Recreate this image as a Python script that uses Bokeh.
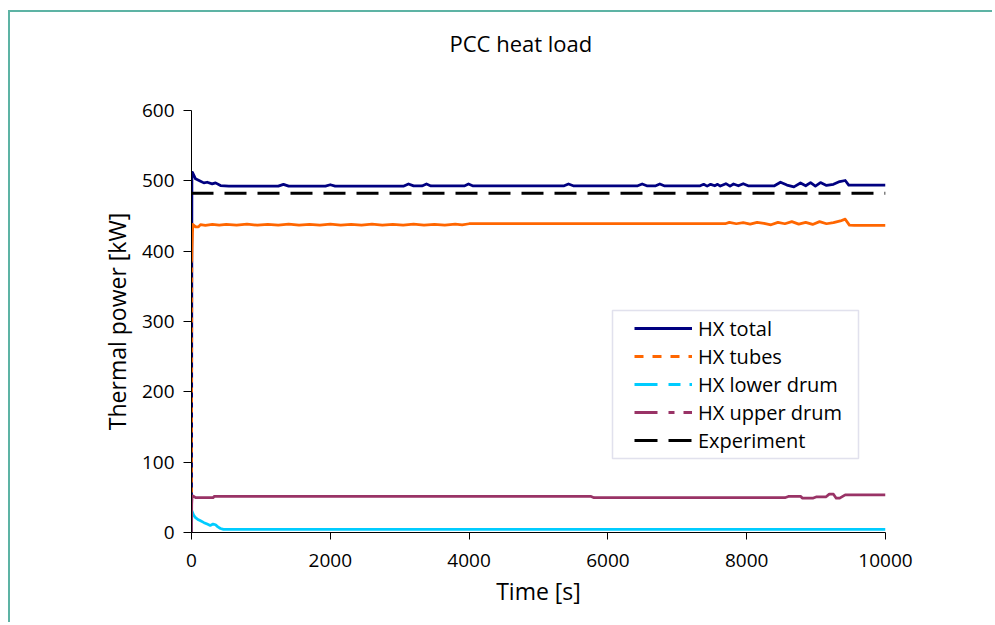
from bokeh.plotting import figure
from bokeh.models import Range1d, FixedTicker, Legend, LegendItem, BoxAnnotation, Title
from bokeh.embed import file_html
from bokeh.resources import INLINE

# ---------------- data ----------------
t_total = [0, 6, 14, 58, 130, 178, 226, 298, 346, 418, 538, 1250, 1325, 1400, 1930, 2000,
           2070, 3060, 3127, 3200, 3320, 3386, 3450, 3930, 3991, 4050, 5370, 5432, 5500,
           6430, 6494, 6560, 6690, 6748, 6810, 7330, 7380, 7430, 7480, 7540, 7580, 7620,
           7700, 7760, 7810, 7880, 7950, 8020, 8400, 8487, 8580, 8680, 8775, 8850, 8920,
           8990, 9063, 9150, 9250, 9340, 9420, 9470, 10000]
q_total = [0, 505, 512, 502.8, 499.4, 497.1, 498, 495.7, 497.1, 493.3, 492.5, 492.5, 495,
           492.5, 492.5, 494.5, 492.5, 492.5, 495.5, 492.8, 492.8, 495.5, 492.8, 492.8,
           495.5, 493, 493, 495.5, 493, 493, 495.5, 493, 493, 495.5, 493, 493, 495, 492.5,
           495, 493, 495, 492.5, 496, 492.5, 495.5, 493, 496, 493, 493, 498, 494, 491.5,
           497, 493, 497.5, 492.5, 497.5, 493.5, 495, 499, 500.5, 494, 494]

t_tubes = [0, 4, 8, 14, 20, 60, 100, 130, 200, 300, 400, 500, 650, 800, 950, 1100, 1250,
           1400, 1550, 1700, 1850, 2000, 2150, 2300, 2450, 2600, 2750, 2900, 3050, 3200,
           3350, 3500, 3650, 3800, 3900, 4000, 7690, 7750, 7850, 7950, 8050, 8150, 8250,
           8350, 8450, 8550, 8650, 8750, 8850, 8950, 9050, 9150, 9250, 9350, 9420, 9480,
           9550, 10000]
q_tubes = [0, 385, 405, 425, 438, 434.5, 434.5, 437.8, 436.8, 438, 437, 438, 437,
           438.3, 437, 438, 437, 438.3, 437, 438, 437, 438.3, 437, 438, 437,
           438.3, 437, 438, 437, 438.3, 437, 438, 437, 438.3, 437.5, 439, 439, 441,
           439, 440.5, 438.5, 441, 439.5, 437.5, 441, 439, 442, 438.5, 441, 438, 442, 439,
           440.5, 443, 445.5, 437, 436.5, 436.5]

t_lower = [0, 5, 30, 58, 100, 130, 180, 226, 270, 310, 346, 380, 418, 461, 10000]
q_lower = [0, 31, 25, 21, 18, 16.6, 14, 12, 10, 12, 11, 8, 5.7, 4.5, 4.5]

t_upper = [0, 3, 8, 20, 60, 150, 310, 330, 5750, 5800, 8550, 8600, 8780, 8800, 8960,
           9000, 9140, 9190, 9250, 9290, 9340, 9420, 10000]
q_upper = [0, 40, 50.5, 52, 49.5, 49.5, 49.5, 51.5, 51.5, 49.5, 49.5, 51.2, 51.2, 49, 49,
           50.5, 50.5, 54.5, 54.5, 48.8, 48.8, 53.6, 53.6]

t_exp = [0, 10000]
q_exp = [482.4, 482.4]

series_names = ["HX total", "HX tubes", "HX lower drum", "HX upper drum", "Experiment"]
y_ticks = [0, 100, 200, 300, 400, 500, 600]
x_ticks = [0, 2000, 4000, 6000, 8000, 10000]

# ---------------- styling ----------------
FONT = "Open Sans"
C_TOTAL = "#000080"
C_TUBES = "#FF6600"
C_LOWER = "#00CCFF"
C_UPPER = "#993366"
C_EXP = "#000000"
LW = 2.75

p = figure(width=984, height=612, output_backend="svg", toolbar_location=None,
           x_range=Range1d(0, 10000), y_range=Range1d(0, 600),
           min_border_left=181, min_border_right=109, min_border_top=98,
           min_border_bottom=92)
p.styles = {"margin-left": "8px", "margin-top": "10px",
            "border-style": "solid none none solid",
            "border-width": "2px 0px 0px 2px",
            "border-color": "#5db3a4"}
p.outline_line_color = None
p.xgrid.visible = False
p.ygrid.visible = False
p.background_fill_color = "white"
p.border_fill_color = "white"

# real title (outermost panel)
p.title.text = "PCC heat load"
p.title.align = "left"
p.title.offset = 258
p.title.standoff = 0
p.title.text_font = FONT
p.title.text_font_size = "22px"
p.title.text_font_style = "normal"
p.title.text_color = "black"

# invisible spacer panel between the title and the plot area
p.add_layout(Title(text=" ", text_font_size="1px", standoff=50), "above")

for ax in (p.xaxis, p.yaxis):
    ax.axis_line_color = "black"
    ax.axis_line_width = 1
    ax.major_tick_line_color = "black"
    ax.major_tick_in = 0
    ax.minor_tick_line_color = None
    ax.major_label_text_font = FONT
    ax.major_label_text_font_size = "19px"
    ax.major_label_text_color = "black"
    ax.axis_label_text_font = FONT
    ax.axis_label_text_font_size = "23px"
    ax.axis_label_text_font_style = "normal"
    ax.axis_label_text_color = "black"

p.xaxis.ticker = FixedTicker(ticks=x_ticks)
p.yaxis.ticker = FixedTicker(ticks=y_ticks)
p.xaxis.major_tick_out = 7
p.yaxis.major_tick_out = 8
p.xaxis.major_label_standoff = 14
p.yaxis.major_label_standoff = 9
p.xaxis.axis_label = "Time [s]"
p.yaxis.axis_label = "Thermal power [kW]"
p.xaxis.axis_label_standoff = 5
p.yaxis.axis_label_standoff = 6

# data lines
p.line(t_total, q_total, line_color=C_TOTAL, line_width=LW, line_join="round")
p.line(t_tubes[:2], q_tubes[:2], line_color=C_TUBES, line_width=LW, line_dash="5 5")
p.line(t_tubes[1:], q_tubes[1:], line_color=C_TUBES, line_width=LW, line_join="round")
p.line(t_lower, q_lower, line_color=C_LOWER, line_width=LW, line_join="round")
p.line(t_upper, q_upper, line_color=C_UPPER, line_width=LW, line_join="round")
p.line(t_exp, q_exp, line_color=C_EXP, line_width=3, line_dash="22 11")

# legend-only renderers (a single NaN point, nothing drawn in the plot)
nan = float("nan")
leg_styles = [(C_TOTAL, "solid"), (C_TUBES, "9 9"), (C_LOWER, "23 11 12 9"),
              (C_UPPER, "23 11 6 9"), (C_EXP, "23 11")]
items = []
for name, (col, dash) in zip(series_names, leg_styles):
    r = p.line([nan], [nan], line_color=col, line_width=3, line_dash=dash)
    items.append(LegendItem(label=name, renderers=[r]))

box = BoxAnnotation(left=421, right=667, bottom=74, top=222,
                    left_units="screen", right_units="screen",
                    bottom_units="screen", top_units="screen",
                    fill_color="white", fill_alpha=1.0,
                    line_color="#9c9cc4", line_width=1.5)
p.add_layout(box)

legend = Legend(items=items, location=(443, 78), padding=0, spacing=0,
                glyph_width=58, glyph_height=28, label_height=28, label_standoff=6,
                border_line_alpha=0, background_fill_alpha=0,
                label_text_font=FONT, label_text_font_size="20px",
                label_text_color="black")
p.add_layout(legend)

open("out.html", "w").write(file_html(p, INLINE))
